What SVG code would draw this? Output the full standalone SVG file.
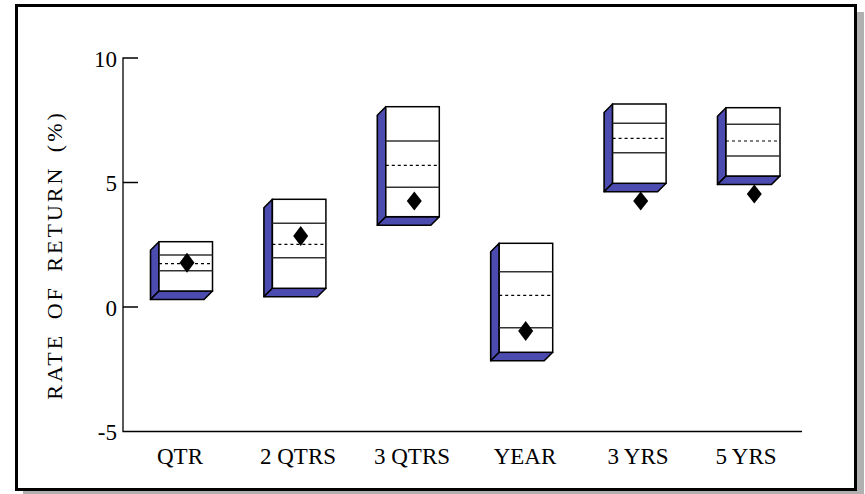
<svg xmlns="http://www.w3.org/2000/svg" width="865" height="494" viewBox="0 0 865 494">
<defs>
<style>
.t{font-family:'Liberation Serif','Times New Roman','DejaVu Serif',serif;font-size:23px;fill:#000}
.face{fill:#4b4bb0;stroke:#000;stroke-width:1.6;stroke-linejoin:round}
.front{fill:#fff;stroke:#000;stroke-width:1.5}
.ln{stroke:#333;stroke-width:1.5}
.dash{stroke:#000;stroke-width:1.2;stroke-dasharray:3 3}
.dia{fill:#000}
.ax{stroke:#000;stroke-width:1.3;fill:none}
</style>
</defs>
<rect x="0" y="0" width="865" height="494" fill="#fff"/>
<rect x="857" y="12" width="7" height="482" fill="#b0b0b0"/>
<rect x="23" y="491" width="841" height="3" fill="#b0b0b0"/>
<rect x="16.5" y="5.5" width="839" height="484" fill="#fff" stroke="#000" stroke-width="3"/>

<g id="axes">
<path class="ax" d="M138,58 H123 V431.5 H802 M123,182.5 H138 M123,307 H138"/>
<text class="t" x="117" y="66.5" text-anchor="end">10</text>
<text class="t" x="117" y="191" text-anchor="end">5</text>
<text class="t" x="117" y="315.5" text-anchor="end">0</text>
<text class="t" x="117" y="440" text-anchor="end">-5</text>
<text class="t" style="font-size:22px;letter-spacing:3px;word-spacing:5px" transform="translate(62,255) rotate(-90)" text-anchor="middle">RATE OF RETURN (%)</text>
</g>

<g id="qtr">
<polygon class="face" points="159,241.7 150.5,250.2 150.5,299.5 159,291"/>
<polygon class="face" points="159,291 212.5,291 204,299.5 150.5,299.5"/>
<rect class="front" x="159" y="241.7" width="53.5" height="49.3"/>
<line class="ln" x1="159" y1="255" x2="212.5" y2="255"/>
<line class="dash" x1="159" y1="263.7" x2="212.5" y2="263.7"/>
<line class="ln" x1="159" y1="270.7" x2="212.5" y2="270.7"/>
<polygon class="dia" points="187,252.7 194.5,262.7 187,272.7 179.5,262.7"/>
<text class="t" x="180" y="464" text-anchor="middle">QTR</text>
</g>

<g id="qtrs2">
<polygon class="face" points="272.4,199.3 263.9,207.8 263.9,296.8 272.4,288.3"/>
<polygon class="face" points="272.4,288.3 325.9,288.3 317.4,296.8 263.9,296.8"/>
<rect class="front" x="272.4" y="199.3" width="53.5" height="89"/>
<line class="ln" x1="272.4" y1="223.3" x2="325.9" y2="223.3"/>
<line class="dash" x1="272.4" y1="244.3" x2="325.9" y2="244.3"/>
<line class="ln" x1="272.4" y1="257.7" x2="325.9" y2="257.7"/>
<polygon class="dia" points="300.7,226 308.2,236 300.7,246 293.2,236"/>
<text class="t" x="298" y="464" text-anchor="middle">2 QTRS</text>
</g>

<g id="qtrs3">
<polygon class="face" points="385.8,106.7 377.3,115.2 377.3,225.2 385.8,216.7"/>
<polygon class="face" points="385.8,216.7 439.3,216.7 430.8,225.2 377.3,225.2"/>
<rect class="front" x="385.8" y="106.7" width="53.5" height="110"/>
<line class="ln" x1="385.8" y1="141" x2="439.3" y2="141"/>
<line class="dash" x1="385.8" y1="165.3" x2="439.3" y2="165.3"/>
<line class="ln" x1="385.8" y1="187.3" x2="439.3" y2="187.3"/>
<polygon class="dia" points="414.3,191.5 421.8,201 414.3,210.5 406.8,201"/>
<text class="t" x="412" y="464" text-anchor="middle">3 QTRS</text>
</g>

<g id="year">
<polygon class="face" points="499.2,243.3 490.7,251.8 490.7,360.8 499.2,352.3"/>
<polygon class="face" points="499.2,352.3 552.7,352.3 544.2,360.8 490.7,360.8"/>
<rect class="front" x="499.2" y="243.3" width="53.5" height="109"/>
<line class="ln" x1="499.2" y1="271.7" x2="552.7" y2="271.7"/>
<line class="dash" x1="499.2" y1="295.3" x2="552.7" y2="295.3"/>
<line class="ln" x1="499.2" y1="327.7" x2="552.7" y2="327.7"/>
<polygon class="dia" points="525.7,321 533.2,331 525.7,341 518.2,331"/>
<text class="t" x="525" y="464" text-anchor="middle">YEAR</text>
</g>

<g id="yrs3">
<polygon class="face" points="612.6,104 604.1,112.5 604.1,191.8 612.6,183.3"/>
<polygon class="face" points="612.6,183.3 666.1,183.3 657.6,191.8 604.1,191.8"/>
<rect class="front" x="612.6" y="104" width="53.5" height="79.3"/>
<line class="ln" x1="612.6" y1="123.3" x2="666.1" y2="123.3"/>
<line class="dash" x1="612.6" y1="138.3" x2="666.1" y2="138.3"/>
<line class="ln" x1="612.6" y1="152.7" x2="666.1" y2="152.7"/>
<polygon class="dia" points="640.7,191.5 648.2,201 640.7,210.5 633.2,201"/>
<text class="t" x="638" y="464" text-anchor="middle">3 YRS</text>
</g>

<g id="yrs5">
<polygon class="face" points="726,107.7 717.5,116.2 717.5,184.5 726,176"/>
<polygon class="face" points="726,176 780,176 771.5,184.5 717.5,184.5"/>
<rect class="front" x="726" y="107.7" width="54" height="68.3"/>
<line class="ln" x1="726" y1="124.3" x2="780" y2="124.3"/>
<line class="dash" x1="726" y1="141" x2="780" y2="141"/>
<line class="ln" x1="726" y1="156" x2="780" y2="156"/>
<polygon class="dia" points="754.3,184.5 761.8,194 754.3,203.5 746.8,194"/>
<text class="t" x="746" y="464" text-anchor="middle">5 YRS</text>
</g>
</svg>
